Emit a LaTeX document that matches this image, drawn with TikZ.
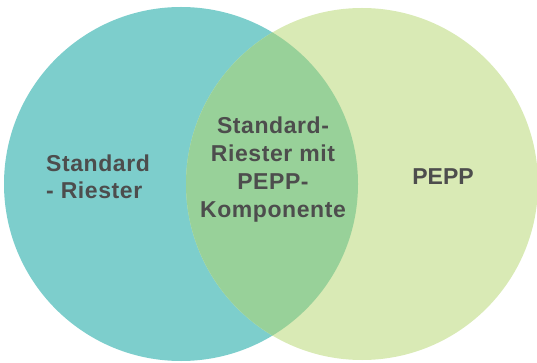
\documentclass[tikz,border=0pt]{standalone}
\usepackage{fontspec}
\setmainfont{Liberation Sans}
\newfontfamily\labelfont[LetterSpace=2.5]{Liberation Sans}
\definecolor{riesterteal}{RGB}{125,206,204}
\definecolor{peppgreen}{RGB}{217,234,181}
\definecolor{bothgreen}{RGB}{152,209,153}
\definecolor{labelgray}{RGB}{77,77,77}
\tikzset{
  setlabel/.style={text=labelgray,inner sep=0,font=\labelfont\bfseries\fontsize{23}{27.5}\selectfont}
}
\begin{document}
\begin{tikzpicture}[x=1pt,y=-1pt]
      \useasboundingbox (0,0) rectangle (537,363);
      \fill[riesterteal] (181,184) circle (177);
      \fill[peppgreen] (362,184) circle (176);
      \begin{scope}
      \clip (181,184) circle (177);
      \fill[bothgreen] (362,184) circle (176);
      \end{scope}
\node [setlabel,align=left,anchor=north west] (riester) at (46,154.2) {Standard\\- Riester};
\node [setlabel,align=center,anchor=north,font=\labelfont\bfseries\fontsize{23}{28.3}\selectfont] (beides) at (273,116.2) {Standard-\\Riester mit\\PEPP-\\Komponente};
\node [setlabel,anchor=base,font=\bfseries\fontsize{23}{27.5}\selectfont] (pepp) at (443,185) {PEPP};
    \end{tikzpicture}
\end{document}
